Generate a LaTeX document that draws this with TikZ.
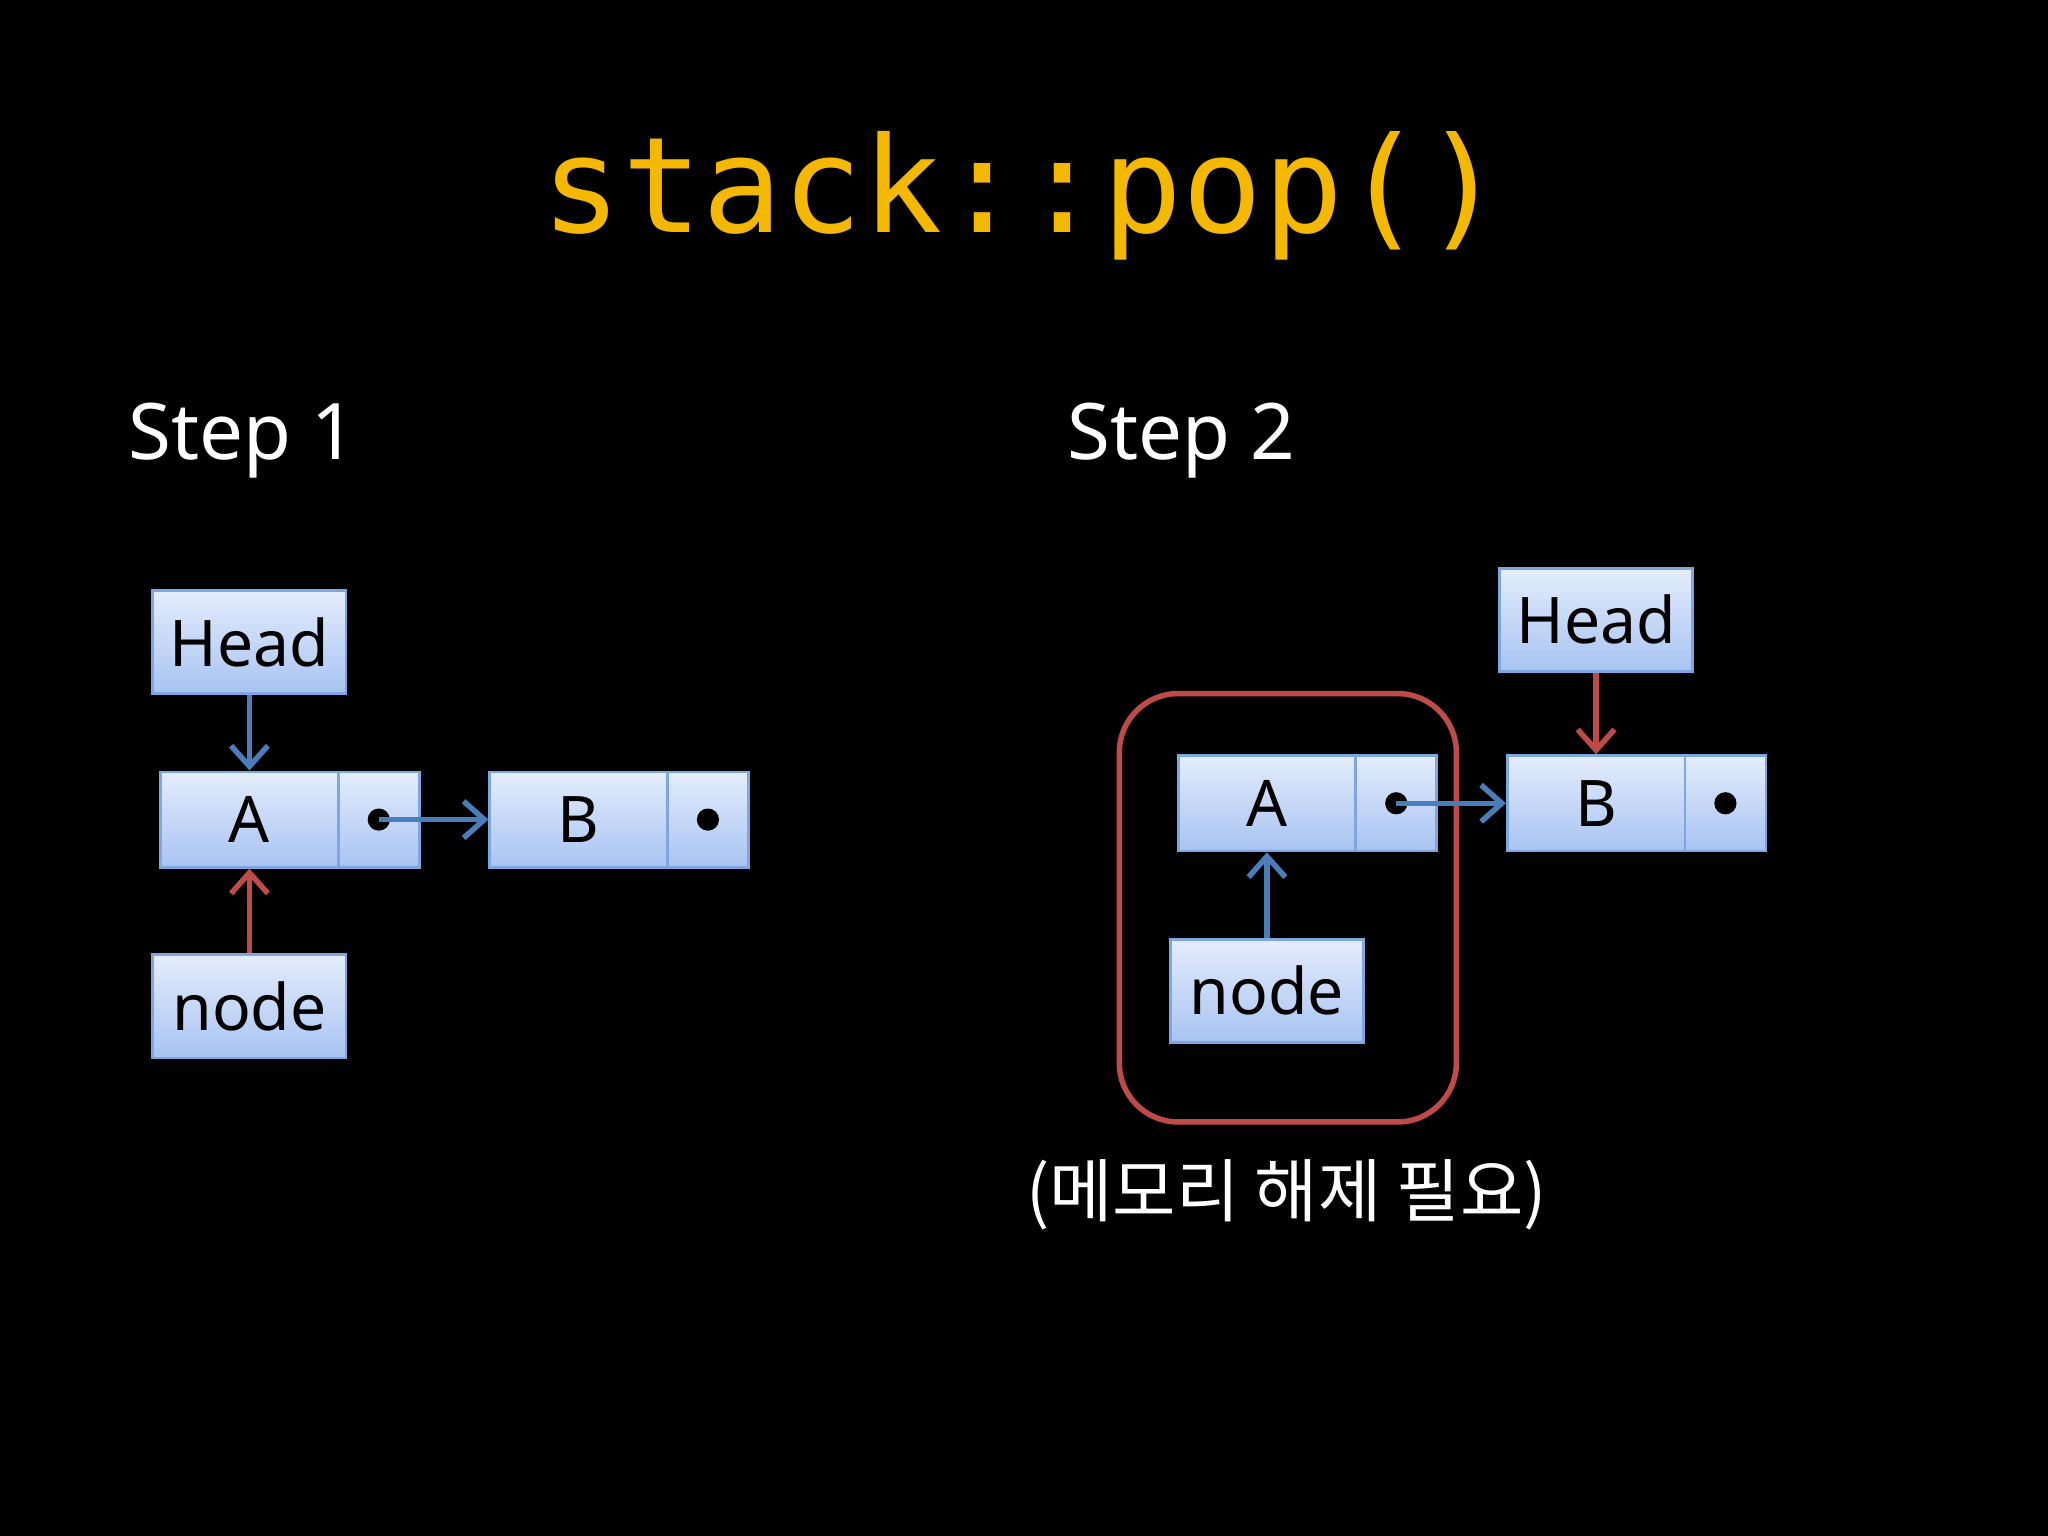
\documentclass[tikz,border=0pt]{standalone}
\usepackage{fontspec}
\setmainfont{Noto Sans}
\newfontfamily\monofont{DejaVu Sans Mono}
\newfontfamily\krfont{Noto Sans CJK KR}
\usetikzlibrary{arrows.meta}
\definecolor{bx}{HTML}{7EA6E0}
\definecolor{topc}{HTML}{E4EDFC}
\definecolor{botc}{HTML}{A8C3F2}
\definecolor{ablue}{HTML}{4A7EBB}
\definecolor{ared}{HTML}{BE4B48}
\definecolor{ttl}{HTML}{F5B800}
\tikzset{
 cell/.style={draw=bx,line width=1.2pt,top color=topc,bottom color=botc,inner sep=0pt,
   font=\fontsize{28}{30}\selectfont,text=black},
 arr/.style={line width=2.4pt,-{Straight Barb[length=9pt,width=16pt,line width=2.4pt]}},
 dot/.style={circle,fill=black,inner sep=0pt,minimum size=0.34cm},
 steplabel/.style={text=white,font=\bfseries\fontsize{34}{36}\selectfont,anchor=west}
}
\begin{document}
\begin{tikzpicture}[x=0.02cm,y=-0.02cm]
\fill[black] (0,0) rectangle (1568,1176);
\useasboundingbox (0,0) rectangle (1568,1176);
\node[text=ttl,font=\monofont\fontsize{58}{60}\selectfont] (title) at (783,150) {stack::pop()};
\node[steplabel] (s1) at (92,337) {Step 1};
\node[steplabel] (s2) at (811,337) {Step 2};
% step 1
\node[cell,minimum width=2.96cm,minimum height=1.58cm] (h1) at (191,491.5) {Head};
\node[cell,minimum width=2.72cm,minimum height=1.46cm] (a1) at (191,627.5) {A};
\node[cell,minimum width=1.24cm,minimum height=1.46cm] (pa1) at (290,627.5) {};
\node[cell,minimum width=2.72cm,minimum height=1.46cm] (b1) at (443,627.5) {B};
\node[cell,minimum width=1.24cm,minimum height=1.46cm] (pb1) at (542,627.5) {};
\node[cell,minimum width=2.96cm,minimum height=1.58cm] (n1) at (191,770.5) {node};
\node[dot] (da1) at (pa1) {};
\node[dot] (db1) at (pb1) {};
\draw[arr,ablue] (h1.south) -- (a1.north);
\draw[arr,ared] (n1.north) -- (a1.south);
\draw[arr,ablue] (da1.center) -- (b1.west);
% step 2
\draw[ared,line width=2.4pt,rounded corners=0.9cm] (857,531) rectangle (1115,859);
\node[cell,minimum width=2.96cm,minimum height=1.58cm] (h2) at (1222,474.5) {Head};
\node[cell,minimum width=2.72cm,minimum height=1.46cm] (a2) at (970,615) {A};
\node[cell,minimum width=1.24cm,minimum height=1.46cm] (pa2) at (1069,615) {};
\node[cell,minimum width=2.72cm,minimum height=1.46cm] (b2) at (1222,615) {B};
\node[cell,minimum width=1.24cm,minimum height=1.46cm] (pb2) at (1321,615) {};
\node[cell,minimum width=2.96cm,minimum height=1.58cm] (n2) at (970,758.5) {node};
\node[dot] (da2) at (pa2) {};
\node[dot] (db2) at (pb2) {};
\draw[arr,ared] (h2.south) -- (b2.north);
\draw[arr,ablue] (n2.north) -- (a2.south);
\draw[arr,ablue] (da2.center) -- (b2.west);
\node[text=white,font=\krfont\fontsize{30}{32}\selectfont] (note) at (985,915) {(메모리 해제 필요)};
\end{tikzpicture}
\end{document}
